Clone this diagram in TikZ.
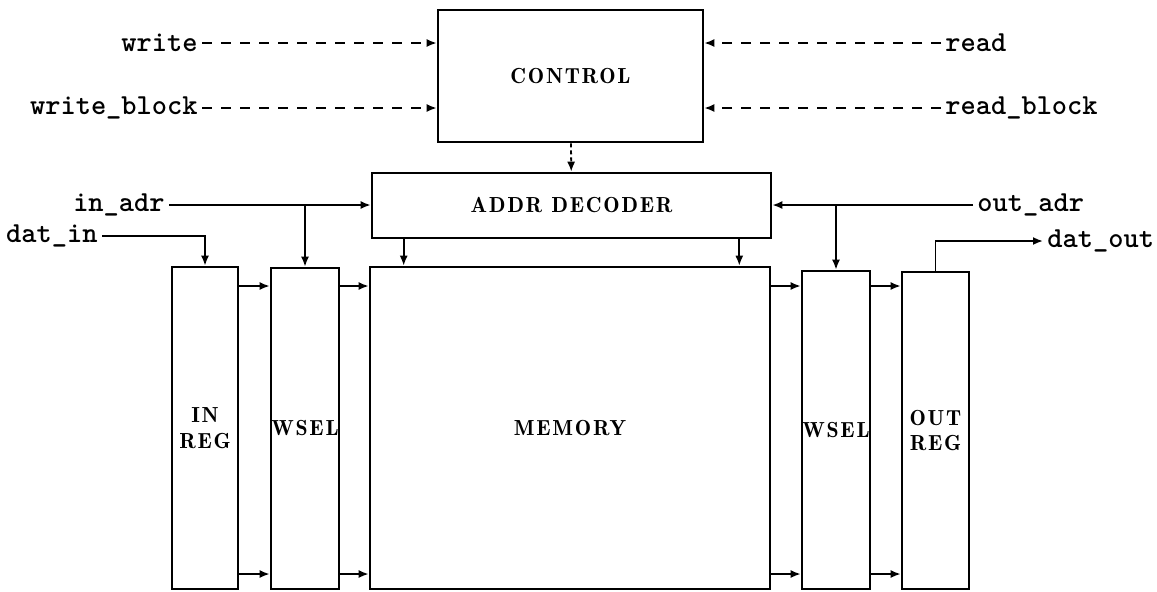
\documentclass[tikz,border=0pt]{standalone}
\usepackage{fontspec}
\usetikzlibrary{arrows.meta,calc,positioning}
\newfontfamily\blockfont{lmromandemi10-regular}[Extension=.otf, LetterSpace=8]

\begin{document}
\begin{tikzpicture}[x=0.5pt, y=-0.5pt,
        every node/.style={font=\fontsize{14.5}{16}\selectfont\ttfamily\bfseries, inner sep=2pt},
        blk/.style={draw, line width=1.3pt, inner sep=0pt, align=center, font=\fontsize{10.9}{12.8}\selectfont\blockfont},
        ar/.style={-{Latex[length=5pt,width=4pt]}, line width=0.9pt},
        dsh/.style={ar, dash pattern=on 5pt off 4.5pt},
        dot/.style={ar, dash pattern=on 2pt off 1.5pt}
    ]
    \useasboundingbox (0,0) rectangle (1157,591);
    \node[blk, minimum width=132.5pt, minimum height=66pt] (ctrl) at (570.5,76) {CONTROL};
    \node[blk, minimum width=199.5pt, minimum height=32.5pt] (addr) at (571.5,205.5) {ADDR DECODER};
    \node[blk, minimum width=33pt, minimum height=161pt] (inreg) at (205,428) {IN\\REG};
    \node[blk, minimum width=34pt, minimum height=160.5pt] (wsell) at (305,428.5) {WSEL};
    \node[blk, minimum width=200pt, minimum height=161pt] (mem) at (570,428) {MEMORY};
    \node[blk, minimum width=34pt, minimum height=159pt] (wselr) at (836,430) {WSEL};
    \node[blk, minimum width=33.5pt, minimum height=158.5pt] (outreg) at (935.5,430.5) {OUT\\REG};

    \node[anchor=east] (lwrite) at (202,43) {write};
    \node[anchor=east] (lwblock) at (202,108) {write\_block};
    \node[anchor=west] (lread) at (941,43) {read};
    \node[anchor=west] (lrblock) at (941,108) {read\_block};
    \node[anchor=east] (lin) at (169,205) {in\_adr};
    \node[anchor=east] (ldin) at (102,236) {dat\_in};
    \node[anchor=west] (lout) at (973,205) {out\_adr};
    \node[anchor=west] (ldout) at (1043,241) {dat\_out};

    \draw[dsh] (lwrite) -- (lwrite -| ctrl.west);
    \draw[dsh] (lwblock) -- (lwblock -| ctrl.west);
    \draw[dsh] (lread) -- (lread -| ctrl.east);
    \draw[dsh] (lrblock) -- (lrblock -| ctrl.east);
    \draw[dot] (ctrl) -- (addr);

    \draw[ar] (lin) -- (lin -| addr.west);
    \draw[ar] (lin -| wsell) -- (wsell);
    \draw[ar] (ldin) -| (inreg);
    \draw[ar] (lout) -- (lout -| addr.east);
    \draw[ar] (lout -| wselr) -- (wselr);
    \draw[ar] (outreg) |- (ldout);

    \coordinate (d1) at ($(addr.south west)+(33,0)$);
    \coordinate (d2) at ($(addr.south east)+(-33,0)$);
    \draw[ar] (d1) -- (d1 |- mem.north);
    \draw[ar] (d2) -- (d2 |- mem.north);

    \coordinate (hi) at (0,286);
    \coordinate (lo) at (0,574);
    \foreach \a/\b in {inreg/wsell, wsell/mem, mem/wselr, wselr/outreg} {
        \draw[ar] (\a.east |- hi) -- (\b.west |- hi);
        \draw[ar] (\a.east |- lo) -- (\b.west |- lo);
    }
\end{tikzpicture}
\end{document}
